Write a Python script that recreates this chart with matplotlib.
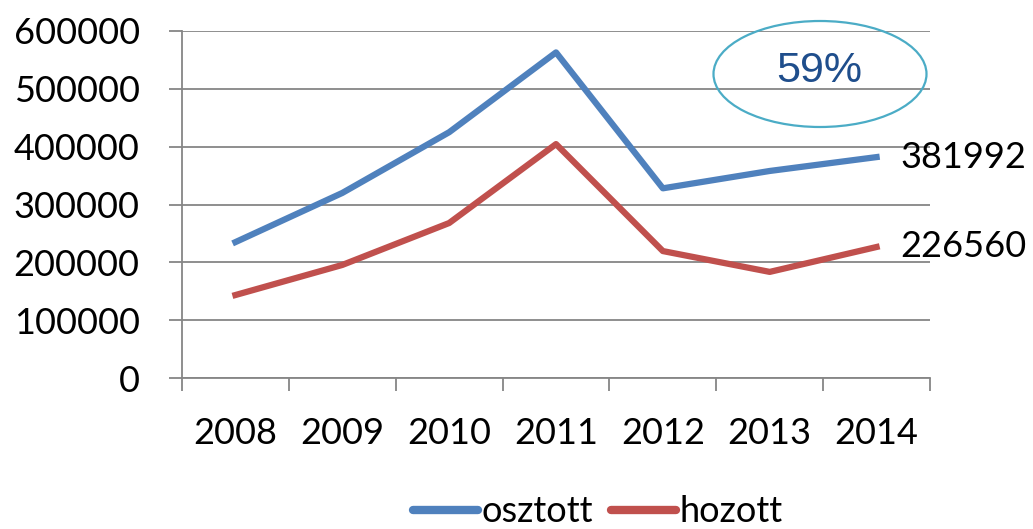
import matplotlib.pyplot as plt
from matplotlib.patches import Ellipse

years = ['2008', '2009', '2010', '2011', '2012', '2013', '2014']
osztott = [235000, 320000, 425000, 563000, 328000, 358000, 381992]
hozott = [143500, 195500, 268000, 404500, 219500, 183500, 226560]

plt.rcParams['font.family'] = ['Lato', 'DejaVu Sans']

fig = plt.figure(figsize=(10.33, 5.29), dpi=100)
ax = fig.add_axes([0.1762, 0.2854, 0.9003 - 0.1762, 0.9414 - 0.2854])

x = list(range(len(years)))
ax.plot(x, osztott, color='#4F81BD', lw=4.5, label='osztott', zorder=3)
ax.plot(x, hozott, color='#C0504D', lw=4.5, label='hozott', zorder=3)

ax.set_ylim(0, 600000)
ax.set_yticks(range(0, 600001, 100000))
ax.set_xlim(-0.5, len(years) - 0.5)
ax.set_xticks([i - 0.5 for i in range(len(years) + 1)])
ax.set_xticklabels([])
ax.set_xticks(x, minor=True)
ax.set_xticklabels(years, minor=True)

ax.grid(axis='y', color='#868686', lw=1.3)
ax.set_axisbelow(True)
for s in ['top', 'right']:
    ax.spines[s].set_visible(False)
for s in ['left', 'bottom']:
    ax.spines[s].set_color('#868686')
    ax.spines[s].set_linewidth(1.3)

ax.tick_params(axis='y', which='major', length=9.5, width=1.3, color='#868686',
               labelsize=26, pad=21)
ax.tick_params(axis='x', which='major', length=9.5, width=1.3, color='#868686')
ax.tick_params(axis='x', which='minor', length=0, labelsize=26, pad=28)

# end labels
ax.text(6.22, osztott[-1], str(osztott[-1]), fontsize=26, va='center', ha='left',
        clip_on=False)
ax.text(6.22, hozott[-1], str(hozott[-1]), fontsize=26, va='center', ha='left',
        clip_on=False)

# ellipse annotation
e = Ellipse((820 / 1033, 1 - 74 / 529), 213 / 1033, 106 / 529,
            transform=fig.transFigure, fill=False, edgecolor='#4BACC6', lw=1.6)
fig.patches.append(e)
fig.text(819 / 1033, 1 - 71 / 529, '59%', fontsize=31, color='#1F4E8C',
         ha='center', va='center', family='Liberation Sans')

leg = fig.legend(loc='center', bbox_to_anchor=(598 / 1033, 1 - 512 / 529),
                 ncol=2, frameon=False, fontsize=26, handlelength=1.8,
                 handletextpad=0.1, columnspacing=0.5, borderpad=0)
for h in leg.get_lines():
    h.set_linewidth(6)
    h.set_solid_capstyle('round')

fig.savefig('out.png', dpi=100)
